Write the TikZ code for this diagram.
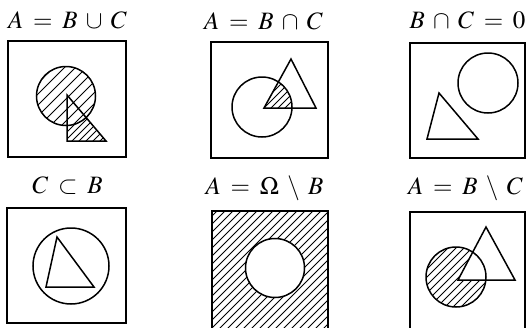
\documentclass[tikz,border=0pt]{standalone}
\usepackage{mathptmx}
\thickmuskip=7mu
\medmuskip=6mu
\newcommand\hatchlines[3]{\foreach \c in {#1,#2,...,#3} \draw[hatchline] (\c+400,-400) -- (\c-400,400);}
\begin{document}
\begin{tikzpicture}[x=1pt,y=-1pt,
  box/.style={line width=2.3pt},
  outline/.style={line width=1.5pt},
  hatchline/.style={line width=0.9pt},
  title/.style={anchor=base,inner sep=0pt,font=\fontsize{25}{30}\selectfont}]
\useasboundingbox (0,0) rectangle (527,327);
\clip (0,0) rectangle (527,327);

% ---- titles
\node[title] (t1) at (67.5,28.5) {$A = B \cup C$};
\node[title] (t2) at (263.5,29) {$A = B \cap C$};
\node[title] (t3) at (467.5,28.5) {$B \cap C = 0$};
\node[title] (t4) at (67.5,193.5) {$C \subset B$};
\node[title] (t5) at (264.5,194.5) {$A = \Omega \setminus B$};
\node[title] (t6) at (465.5,194.5) {$A = B \setminus C$};

% ---- panel 1: union
\begin{scope}
  \clip (66,96) circle (29.5);
  \hatchlines{110}{121}{260}
\end{scope}
\begin{scope}[even odd rule]
  \clip (67,95) -- (67,141) -- (106,141) -- cycle;
  \clip (67,95) -- (67,141) -- (106,141) -- cycle (66,96) circle (29.5);
  \hatchlines{150}{157}{260}
\end{scope}
\draw[outline] (66,96) circle (29.5);
\draw[outline] (67,95) -- (67,141) -- (106,141) -- cycle;
\draw[box] (8,41) rectangle (126,157);

% ---- panel 2: intersection
\begin{scope}
  \clip (262,107) circle (30);
  \clip (291,59) -- (264,108) -- (316,108) -- cycle;
  \hatchlines{330}{337}{420}
\end{scope}
\draw[outline] (262,107) circle (30);
\draw[outline] (291,59) -- (264,108) -- (316,108) -- cycle;
\draw[box] (211,42) rectangle (328,158);

% ---- panel 3: disjoint
\draw[outline] (488,83) circle (30);
\draw[outline] (439,93) -- (427,139) -- (478,139) -- cycle;
\draw[box] (410,43) rectangle (525,158);

% ---- panel 4: subset
\draw[outline] (71,266) circle (38);
\draw[outline] (57,237) -- (46,287) -- (94,287) -- cycle;
\draw[box] (7,208) rectangle (126,323);

% ---- panel 5: complement
\begin{scope}
  \clip (212,211) rectangle (328,340);
  \hatchlines{420}{428}{680}
\end{scope}
\fill[white] (275,268) circle (29.5);
\draw[outline] (275,268) circle (29.5);
\draw[box] (212,211) rectangle (328,340);

% ---- panel 6: difference
\begin{scope}
  \clip (456,277) circle (30);
  \hatchlines{680}{688}{790}
\end{scope}
\fill[white] (486,227) -- (458,280) -- (515,280) -- cycle;
\draw[outline] (456,277) circle (30);
\draw[outline] (486,227) -- (458,280) -- (515,280) -- cycle;
\draw[box] (410,212) rectangle (525,340);
\end{tikzpicture}
\end{document}
